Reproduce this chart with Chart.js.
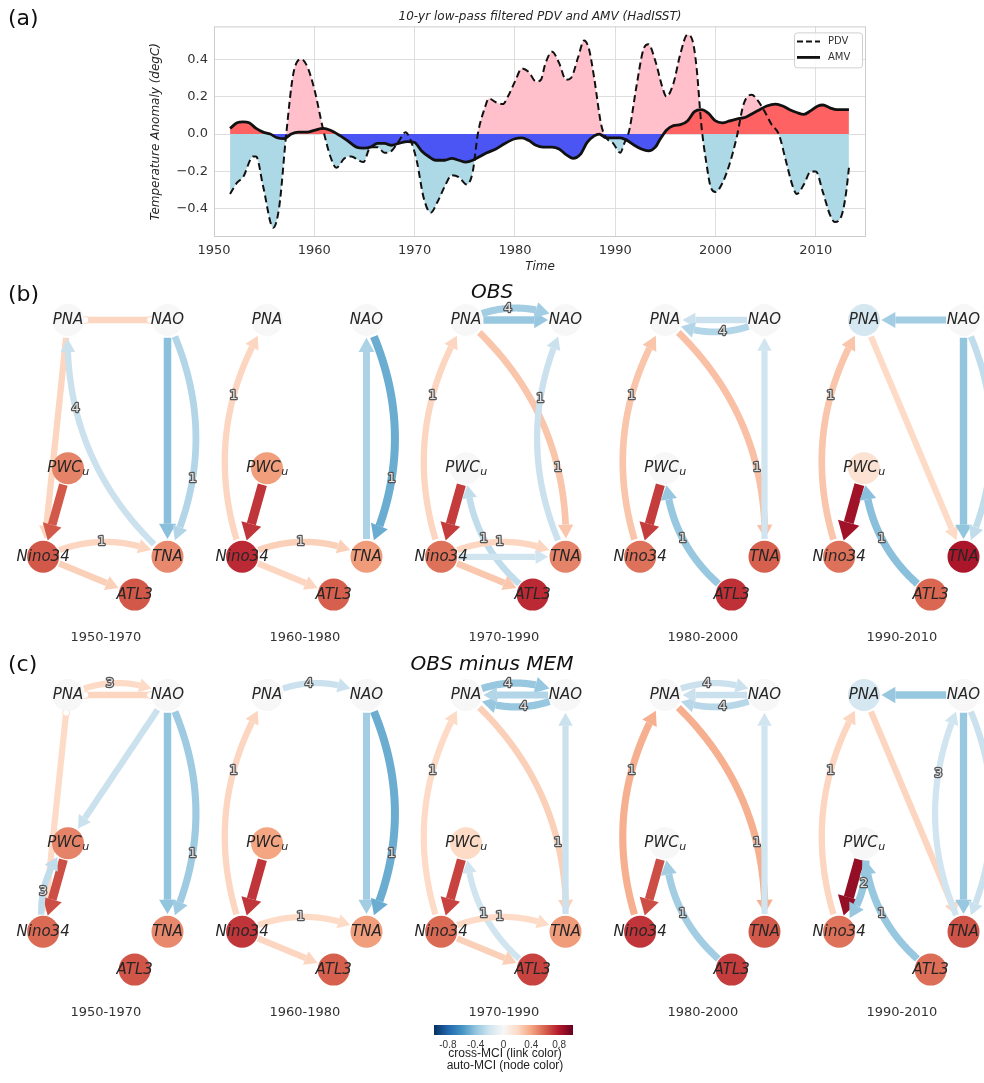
<!DOCTYPE html>
<html>
<head>
<meta charset="utf-8">
<script src="https://cdn.jsdelivr.net/npm/chart.js@4.4.1/dist/chart.umd.min.js"></script>
<style>
  body { margin: 0; background: #fff; }
  #page { position: relative; width: 984px; height: 1083px; overflow: hidden; font-family: "DejaVu Sans", sans-serif; color: #111; }
  canvas { position: absolute; }
  .txt { position: absolute; white-space: nowrap; }
  .mid { transform: translate(-50%, -50%); }
</style>
</head>
<body>
<div id="page">
  <canvas id="pdvAmv" width="984" height="280" style="left:0;top:0"></canvas>
  <canvas id="obsNet" width="984" height="370" style="left:0;top:280px"></canvas>
  <canvas id="memNet" width="984" height="370" style="left:0;top:655px"></canvas>
  <canvas id="cbar" width="160" height="40" style="left:424px;top:1018px"></canvas>

  <div class="txt" style="left:8px;top:5px;font-size:22px">(a)</div>
  <div class="txt" style="left:8px;top:281px;font-size:22px">(b)</div>
  <div class="txt" style="left:8px;top:651px;font-size:22px">(c)</div>
  <div class="txt mid" style="left:492px;top:291px;font-size:20px;font-style:italic">OBS</div>
  <div class="txt mid" style="left:492px;top:663px;font-size:20px;font-style:italic">OBS minus MEM</div>
  <div class="txt mid" style="left:505px;top:1053px;font-size:12px;font-family:'Liberation Sans';color:#222">cross-MCI (link color)</div>
  <div class="txt mid" style="left:505px;top:1065px;font-size:12px;font-family:'Liberation Sans';color:#222">auto-MCI (node color)</div>
</div>

<script>
// (a) 10-yr low-pass filtered indices
const pdvYears = [1951.6, 1952.3, 1952.9, 1953.9, 1954.2, 1954.9, 1955.9, 1956.5, 1957.2, 1957.9,
  1958.7, 1959.3, 1960.0, 1960.9, 1961.6, 1962.2, 1963.0, 1963.7, 1964.4, 1964.9,
  1965.6, 1966.3, 1967.0, 1967.7, 1968.4, 1969.1, 1969.5, 1970.2, 1970.9, 1971.6,
  1972.3, 1973.0, 1973.7, 1974.4, 1975.2, 1975.8, 1976.3, 1977.0, 1977.4, 1978.1,
  1978.8, 1979.3, 1980.0, 1980.7, 1981.4, 1982.1, 1982.6, 1983.0, 1983.7, 1984.4,
  1985.1, 1985.6, 1986.3, 1986.9, 1987.4, 1987.9, 1988.6, 1989.1, 1989.8, 1990.5,
  1990.9, 1991.4, 1992.1, 1992.8, 1993.3, 1994.0, 1994.7, 1995.1, 1995.8, 1996.5,
  1997.2, 1997.7, 1998.1, 1998.6, 1999.1, 1999.5, 2000.0, 2000.7, 2001.4, 2002.1,
  2002.8, 2003.6, 2004.2, 2004.9, 2005.6, 2006.3, 2007.0, 2007.7, 2008.1, 2008.8,
  2009.5, 2010.0, 2010.7, 2011.4, 2011.9, 2012.6, 2013.0, 2013.3];
const pdv = [-0.32, -0.26, -0.23, -0.12, -0.12, -0.28, -0.50, -0.39, 0.0, 0.32,
  0.40, 0.36, 0.24, 0.02, -0.12, -0.18, -0.13, -0.12, -0.14, -0.15,
  -0.07, -0.07, -0.10, -0.09, -0.04, 0.01, -0.02, -0.14, -0.34, -0.42,
  -0.36, -0.28, -0.22, -0.23, -0.27, -0.20, 0.0, 0.14, 0.19, 0.17,
  0.16, 0.20, 0.28, 0.35, 0.33, 0.28, 0.29, 0.37, 0.44, 0.38,
  0.29, 0.30, 0.41, 0.50, 0.45, 0.30, 0.05, -0.02, -0.05, -0.10,
  -0.05, 0.02, 0.25, 0.45, 0.48, 0.39, 0.25, 0.20, 0.27, 0.43,
  0.53, 0.50, 0.36, 0.04, -0.16, -0.28, -0.31, -0.26, -0.16, -0.02,
  0.16, 0.21, 0.18, 0.12, 0.05, 0.0, -0.14, -0.28, -0.32, -0.27,
  -0.20, -0.20, -0.31, -0.43, -0.47, -0.43, -0.32, -0.18];
const amvYears = [1951.6, 1952.3, 1952.9, 1953.5, 1954.2, 1954.9, 1955.6, 1956.3, 1957.0, 1957.7,
  1958.4, 1959.3, 1960.0, 1960.9, 1961.6, 1962.6, 1963.3, 1964.2, 1964.9, 1965.6,
  1966.3, 1967.0, 1967.7, 1968.4, 1969.3, 1970.0, 1970.7, 1971.4, 1972.1, 1973.0,
  1973.7, 1974.4, 1975.1, 1975.8, 1976.5, 1977.2, 1978.1, 1979.0, 1980.0, 1980.7,
  1981.4, 1982.1, 1982.8, 1983.7, 1984.4, 1985.1, 1985.8, 1986.5, 1987.2, 1987.9,
  1988.4, 1989.1, 1989.8, 1990.5, 1991.2, 1991.9, 1992.6, 1993.3, 1994.0, 1994.4,
  1995.1, 1995.8, 1996.5, 1997.2, 1997.9, 1998.6, 1999.3, 2000.0, 2000.7, 2001.4,
  2002.1, 2003.0, 2003.7, 2004.4, 2005.1, 2006.0, 2006.7, 2007.4, 2008.1, 2008.8,
  2009.5, 2010.2, 2010.7, 2011.4, 2012.1, 2012.8, 2013.3];
const amv = [0.03, 0.06, 0.065, 0.06, 0.03, 0.01, 0.0, -0.02, -0.025, 0.0,
  0.01, 0.01, 0.02, 0.03, 0.02, -0.01, -0.035, -0.07, -0.075, -0.07,
  -0.05, -0.05, -0.06, -0.05, -0.04, -0.045, -0.09, -0.12, -0.14, -0.14,
  -0.13, -0.14, -0.15, -0.14, -0.12, -0.10, -0.08, -0.05, -0.025, -0.02,
  -0.035, -0.06, -0.07, -0.07, -0.08, -0.11, -0.13, -0.11, -0.045, -0.01,
  0.0, -0.02, -0.02, -0.02, -0.035, -0.06, -0.08, -0.09, -0.07, -0.035,
  0.02, 0.045, 0.05, 0.07, 0.12, 0.13, 0.11, 0.07, 0.06, 0.07,
  0.08, 0.09, 0.11, 0.13, 0.15, 0.16, 0.15, 0.13, 0.115, 0.105,
  0.125, 0.15, 0.155, 0.14, 0.13, 0.13, 0.13];
const xTicks = [1950, 1960, 1970, 1980, 1990, 2000, 2010];
const yTicks = [-0.4, -0.2, 0, 0.2, 0.4];

// (b), (c) causal networks: node auto-MCI and links [source, target, cross-MCI, lag]
// lag null = contemporaneous undirected link
const nodeNames = ['PNA', 'NAO', 'PWC_u', 'Nino34', 'TNA', 'ATL3'];
const periods = ['1950-1970', '1960-1980', '1970-1990', '1980-2000', '1990-2010'];

const obsNodeMCI = [
  [0, 0, 0.50, 0.62, 0.48, 0.62],
  [0, 0, 0.42, 0.75, 0.43, 0.60],
  [0, 0, 0, 0.55, 0.50, 0.75],
  [0, 0, 0, 0.55, 0.60, 0.73],
  [-0.18, 0, 0.15, 0.55, 0.82, 0.58]
];
const memNodeMCI = [
  [0, 0, 0.50, 0.57, 0.48, 0.63],
  [0, 0, 0.40, 0.72, 0.42, 0.60],
  [0, 0, 0.20, 0.57, 0.43, 0.68],
  [0, 0, 0, 0.72, 0.62, 0.70],
  [-0.18, 0, 0, 0.55, 0.64, 0.56]
];

const obsLinks = [
  [['PNA', 'NAO', 0.22, null], ['PNA', 'Nino34', 0.22, 0], ['PWC_u', 'Nino34', 0.62, 0], ['TNA', 'PNA', -0.22, 4],
   ['NAO', 'TNA', -0.42, 0], ['NAO', 'TNA', -0.30, 1], ['Nino34', 'TNA', 0.22, 1], ['Nino34', 'ATL3', 0.24, 0]],
  [['Nino34', 'PNA', 0.22, 1], ['PWC_u', 'Nino34', 0.72, 0], ['TNA', 'NAO', -0.32, 0], ['NAO', 'TNA', -0.50, 1],
   ['Nino34', 'TNA', 0.24, 1], ['Nino34', 'ATL3', 0.22, 0]],
  [['PNA', 'NAO', -0.38, 0], ['PNA', 'NAO', -0.35, 4], ['Nino34', 'PNA', 0.22, 1], ['PNA', 'TNA', 0.28, 1],
   ['TNA', 'NAO', -0.22, 1], ['PWC_u', 'Nino34', 0.70, 0], ['ATL3', 'PWC_u', -0.25, 1], ['Nino34', 'TNA', 0.22, 1],
   ['Nino34', 'TNA', -0.20, 0], ['Nino34', 'ATL3', 0.27, 0]],
  [['NAO', 'PNA', -0.22, 0], ['NAO', 'PNA', -0.30, 4], ['Nino34', 'PNA', 0.28, 1], ['PNA', 'TNA', 0.30, 1],
   ['TNA', 'NAO', -0.20, 0], ['PWC_u', 'Nino34', 0.70, 0], ['ATL3', 'PWC_u', -0.38, 1]],
  [['NAO', 'PNA', -0.35, 0], ['Nino34', 'PNA', 0.28, 1], ['PNA', 'TNA', 0.20, 0], ['NAO', 'TNA', -0.40, 0],
   ['NAO', 'TNA', -0.25, 1], ['PWC_u', 'Nino34', 0.85, 0], ['ATL3', 'PWC_u', -0.42, 1]]
];
const memLinks = [
  [['PNA', 'NAO', 0.20, 3], ['PNA', 'NAO', 0.22, null], ['PNA', 'Nino34', 0.20, null], ['NAO', 'PWC_u', -0.22, 0],
   ['NAO', 'TNA', -0.40, 0], ['NAO', 'TNA', -0.36, 1], ['PWC_u', 'Nino34', 0.65, 0], ['Nino34', 'PWC_u', -0.25, 3]],
  [['PNA', 'NAO', -0.22, 4], ['Nino34', 'PNA', 0.22, 1], ['PWC_u', 'Nino34', 0.72, 0], ['NAO', 'TNA', -0.35, 0],
   ['NAO', 'TNA', -0.50, 1], ['Nino34', 'TNA', 0.20, 1], ['Nino34', 'ATL3', 0.22, 0]],
  [['PNA', 'NAO', -0.38, 4], ['NAO', 'PNA', -0.38, 4], ['NAO', 'PNA', -0.30, 0], ['Nino34', 'PNA', 0.20, 1],
   ['PNA', 'TNA', 0.24, 1], ['TNA', 'NAO', -0.22, 0], ['PWC_u', 'Nino34', 0.68, 0], ['ATL3', 'PWC_u', -0.20, 1],
   ['Nino34', 'TNA', 0.20, 1], ['Nino34', 'ATL3', 0.24, 0]],
  [['PNA', 'NAO', -0.22, 4], ['NAO', 'PNA', -0.28, 4], ['NAO', 'PNA', -0.22, 0], ['Nino34', 'PNA', 0.36, 1],
   ['PNA', 'TNA', 0.36, 1], ['TNA', 'NAO', -0.20, 0], ['PWC_u', 'Nino34', 0.65, 0], ['ATL3', 'PWC_u', -0.35, 1]],
  [['NAO', 'PNA', -0.38, 0], ['Nino34', 'PNA', 0.22, 1], ['PNA', 'TNA', 0.22, 0], ['TNA', 'NAO', -0.20, 3],
   ['NAO', 'TNA', -0.38, 0], ['NAO', 'TNA', -0.22, 1], ['PWC_u', 'Nino34', 0.88, 0], ['PWC_u', 'Nino34', -0.38, 2],
   ['ATL3', 'PWC_u', -0.38, 1]]
];
const cbarTicks = [-0.8, -0.4, 0, 0.4, 0.8];

// layout of one network (graph units), not data
const nodeLayout = { PNA: [0, 0], NAO: [1, 0], PWC_u: [0, 1.49], Nino34: [-0.25, 2.38], TNA: [1, 2.38], ATL3: [0.67, 2.76] };
const graphStep = 2;
const unitPx = 99.5;
const nodeRadius = 16;

Chart.defaults.font.family = '"DejaVu Sans", sans-serif';
Chart.defaults.color = '#333';

// RdBu_r colormap
const rdbuStops = ['#053061', '#2166ac', '#4393c3', '#92c5de', '#d1e5f0', '#f7f7f7',
  '#fddbc7', '#f4a582', '#d6604d', '#b2182b', '#67001f'];
function hexRgb(h) { return [1, 3, 5].map(i => parseInt(h.slice(i, i + 2), 16)); }
function rdbu(v) {
  const p = (Math.max(-1, Math.min(1, v)) + 1) / 2 * (rdbuStops.length - 1);
  const i = Math.min(rdbuStops.length - 2, Math.floor(p));
  const f = p - i;
  const a = hexRgb(rdbuStops[i]), b = hexRgb(rdbuStops[i + 1]);
  return 'rgb(' + a.map((c, j) => Math.round(c + (b[j] - c) * f)).join(',') + ')';
}

// ---------- panel (a) ----------
const framePlugin = {
  id: 'frame',
  afterDatasetsDraw(chart) {
    const { ctx, chartArea: a } = chart;
    ctx.save();
    ctx.strokeStyle = '#cccccc';
    ctx.lineWidth = 1;
    ctx.strokeRect(a.left + 0.5, a.top + 0.5, a.width - 1, a.height - 1);
    ctx.restore();
  }
};
const legendBox = {
  id: 'legendBox',
  afterDraw(chart) {
    const { ctx, chartArea: a } = chart;
    const x0 = a.right - 72, y0 = a.top + 6;
    ctx.save();
    ctx.fillStyle = 'rgba(255,255,255,0.85)';
    ctx.strokeStyle = '#d0d0d0';
    ctx.lineWidth = 1;
    ctx.beginPath();
    ctx.roundRect(x0 + 0.5, y0 + 0.5, 68, 35, 3);
    ctx.fill();
    ctx.stroke();
    ctx.strokeStyle = '#111';
    ctx.lineWidth = 2;
    ctx.setLineDash([6, 3]);
    ctx.beginPath(); ctx.moveTo(x0 + 3, y0 + 9); ctx.lineTo(x0 + 26, y0 + 9); ctx.stroke();
    ctx.setLineDash([]);
    ctx.lineWidth = 2.8;
    ctx.beginPath(); ctx.moveTo(x0 + 3, y0 + 25); ctx.lineTo(x0 + 26, y0 + 25); ctx.stroke();
    ctx.fillStyle = '#333';
    ctx.font = '10px "DejaVu Sans"';
    ctx.textBaseline = 'middle';
    ctx.fillText('PDV', x0 + 34, y0 + 9);
    ctx.fillText('AMV', x0 + 34, y0 + 25);
    ctx.restore();
  }
};

const fmtY = v => (v < 0 ? '\u2212' : '') + Math.abs(v).toFixed(1);

new Chart(document.getElementById('pdvAmv'), {
  type: 'line',
  data: {
    datasets: [
      {
        label: 'AMV',
        data: amvYears.map((x, i) => ({ x, y: amv[i] })),
        borderColor: '#111',
        borderWidth: 2.8,
        pointRadius: 0,
        cubicInterpolationMode: 'monotone',
        fill: { target: 'origin', above: '#ff6262', below: '#4a55f4' }
      },
      {
        label: 'PDV',
        data: pdvYears.map((x, i) => ({ x, y: pdv[i] })),
        borderColor: '#111',
        borderWidth: 2,
        borderDash: [7, 4],
        pointRadius: 0,
        cubicInterpolationMode: 'monotone',
        fill: { target: 'origin', above: 'pink', below: 'lightblue' }
      }
    ]
  },
  options: {
    responsive: false,
    animation: false,
    events: [],
    layout: { padding: { left: 145, right: 118, top: 0, bottom: 0 } },
    plugins: {
      legend: { display: false },
      tooltip: { enabled: false },
      filler: { drawTime: 'beforeDatasetsDraw' },
      title: {
        display: true,
        fullSize: false,
        text: '10-yr low-pass filtered PDV and AMV (HadISST)',
        color: '#262626',
        font: { size: 12, style: 'italic', weight: 'normal' },
        padding: { top: 10, bottom: 2 }
      }
    },
    scales: {
      x: {
        type: 'linear',
        min: 1950,
        max: 2015,
        afterBuildTicks: s => { s.ticks = xTicks.map(v => ({ value: v })); },
        afterFit: s => { s.height = 43; },
        grid: { color: '#dedede', drawTicks: false },
        border: { display: false },
        ticks: { callback: v => String(v), font: { size: 13 }, color: '#333', padding: 6, maxRotation: 0 },
        title: { display: true, text: 'Time', color: '#262626', font: { size: 12, style: 'italic' }, padding: { top: 2, bottom: 6 } }
      },
      y: {
        min: -0.55,
        max: 0.575,
        afterBuildTicks: s => { s.ticks = yTicks.map(v => ({ value: v })); },
        afterFit: s => { s.width = 69; },
        grid: { color: '#dedede', drawTicks: false },
        border: { display: false },
        ticks: { callback: fmtY, font: { size: 13 }, color: '#333', padding: 6 },
        title: { display: true, text: 'Temperature Anomaly (degC)', color: '#262626', font: { size: 12, style: 'italic' }, padding: { top: 4, bottom: 2 } }
      }
    }
  },
  plugins: [framePlugin, legendBox]
});

// ---------- panels (b), (c) ----------
function bez(p0, c, p1, t) {
  const u = 1 - t;
  return { x: u * u * p0.x + 2 * u * t * c.x + t * t * p1.x, y: u * u * p0.y + 2 * u * t * c.y + t * t * p1.y };
}

function drawLink(ctx, p0, p1, value, lag) {
  const dx = p1.x - p0.x, dy = p1.y - p0.y, L = Math.hypot(dx, dy);
  const bend = lag ? 0.12 : 0;
  // control point on the left of the travel direction
  const c = { x: (p0.x + p1.x) / 2 + dy * 2 * bend, y: (p0.y + p1.y) / 2 - dx * 2 * bend };
  const pts = [];
  for (let i = 0; i <= 200; i++) pts.push(bez(p0, c, p1, i / 200));
  const R = nodeRadius + 1;
  let i0 = 0, i1 = pts.length - 1;
  while (i0 < i1 && Math.hypot(pts[i0].x - p0.x, pts[i0].y - p0.y) < R) i0++;
  while (i1 > i0 && Math.hypot(pts[i1].x - p1.x, pts[i1].y - p1.y) < R) i1--;
  const lw = 5 + 6 * Math.abs(value);
  const col = rdbu(value);
  ctx.save();
  ctx.strokeStyle = col;
  ctx.fillStyle = col;
  ctx.lineWidth = lw;
  ctx.lineCap = 'butt';
  ctx.lineJoin = 'round';
  const tip = pts[i1];
  let iEnd = i1;
  if (lag !== null) {
    const hl = 1.5 * lw + 3;
    while (iEnd > i0 && Math.hypot(pts[iEnd].x - tip.x, pts[iEnd].y - tip.y) < hl) iEnd--;
  }
  ctx.beginPath();
  ctx.moveTo(pts[i0].x, pts[i0].y);
  for (let i = i0 + 1; i <= iEnd; i++) ctx.lineTo(pts[i].x, pts[i].y);
  ctx.stroke();
  if (lag !== null) {
    const base = pts[iEnd];
    const ux = tip.x - base.x, uy = tip.y - base.y, ul = Math.hypot(ux, uy) || 1;
    const hw = (2 * lw + 2) / 2;
    const nx = -uy / ul * hw, ny = ux / ul * hw;
    ctx.beginPath();
    ctx.moveTo(tip.x, tip.y);
    ctx.lineTo(base.x + nx, base.y + ny);
    ctx.lineTo(base.x - nx, base.y - ny);
    ctx.closePath();
    ctx.fill();
  } else {
    ctx.fillStyle = '#fff';
    ctx.lineWidth = 1;
    [pts[i0], pts[i1]].forEach(p => {
      ctx.beginPath();
      ctx.arc(p.x, p.y, 3.5, 0, Math.PI * 2);
      ctx.fill();
      ctx.stroke();
    });
  }
  ctx.restore();
  if (lag) {
    const t = 0.42 + 0.25 * Math.max(0, Math.min(1, (L - 100) / 120));
    return { pos: bez(p0, c, p1, t), text: String(lag) };
  }
  return null;
}

function drawNodeLabel(ctx, name, x, y) {
  ctx.fillStyle = '#262626';
  ctx.textBaseline = 'middle';
  if (name === 'PWC_u') {
    ctx.font = 'italic 15px "DejaVu Sans"';
    const w1 = ctx.measureText('PWC').width;
    ctx.font = 'italic 11px "DejaVu Sans"';
    const w2 = ctx.measureText('u').width;
    const x0 = x - (w1 + w2) / 2;
    ctx.textAlign = 'left';
    ctx.font = 'italic 15px "DejaVu Sans"';
    ctx.fillText('PWC', x0, y);
    ctx.font = 'italic 11px "DejaVu Sans"';
    ctx.fillText('u', x0 + w1 + 0.5, y + 4);
  } else {
    ctx.textAlign = 'center';
    ctx.font = 'italic 15px "DejaVu Sans"';
    ctx.fillText(name, x, y);
  }
}

function networkRow(canvasId, nodeMCI, links) {
  const pts = [], colors = [];
  nodeMCI.forEach((vals, k) => nodeNames.forEach((n, j) => {
    pts.push({ x: nodeLayout[n][0] + graphStep * k, y: nodeLayout[n][1] });
    colors.push(rdbu(vals[j]));
  }));
  let linkLabels = [];
  const pix = (chart, name, k) => ({
    x: chart.scales.x.getPixelForValue(nodeLayout[name][0] + graphStep * k),
    y: chart.scales.y.getPixelForValue(nodeLayout[name][1])
  });
  const netPlugin = {
    id: 'net',
    beforeDatasetsDraw(chart) {
      const ctx = chart.ctx;
      linkLabels = [];
      links.forEach((graph, k) => graph.forEach(([s, t, v, lag]) => {
        const lab = drawLink(ctx, pix(chart, s, k), pix(chart, t, k), v, lag);
        if (lab) linkLabels.push(lab);
      }));
    },
    afterDatasetsDraw(chart) {
      const ctx = chart.ctx;
      ctx.save();
      ctx.font = '13px "DejaVu Sans"';
      ctx.textAlign = 'center';
      ctx.textBaseline = 'middle';
      ctx.lineJoin = 'round';
      linkLabels.forEach(l => {
        ctx.strokeStyle = '#555';
        ctx.lineWidth = 2.5;
        ctx.strokeText(l.text, l.pos.x, l.pos.y);
        ctx.fillStyle = '#e4e4e4';
        ctx.fillText(l.text, l.pos.x, l.pos.y);
      });
      nodeMCI.forEach((vals, k) => nodeNames.forEach(n => {
        const p = pix(chart, n, k);
        drawNodeLabel(ctx, n, p.x, p.y);
      }));
      ctx.font = '13px "DejaVu Sans"';
      ctx.fillStyle = '#333';
      ctx.textAlign = 'center';
      periods.forEach((label, k) => {
        ctx.fillText(label, chart.scales.x.getPixelForValue(0.38 + graphStep * k), chart.scales.y.getPixelForValue(3.19));
      });
      ctx.restore();
    }
  };
  new Chart(document.getElementById(canvasId), {
    type: 'scatter',
    data: {
      datasets: [{
        data: pts,
        pointRadius: nodeRadius,
        pointHoverRadius: nodeRadius,
        pointBackgroundColor: colors,
        pointBorderWidth: 0,
        borderWidth: 0,
        clip: false
      }]
    },
    options: {
      responsive: false,
      animation: false,
      events: [],
      layout: { padding: 0, autoPadding: false },
      plugins: { legend: { display: false }, tooltip: { enabled: false } },
      scales: {
        x: { type: 'linear', display: false, min: -68 / unitPx, max: (984 - 68) / unitPx },
        y: { type: 'linear', display: false, reverse: true, min: -40 / unitPx, max: (370 - 40) / unitPx }
      }
    },
    plugins: [netPlugin]
  });
}

networkRow('obsNet', obsNodeMCI, obsLinks);
networkRow('memNet', memNodeMCI, memLinks);

// ---------- colour bar ----------
new Chart(document.getElementById('cbar'), {
  type: 'scatter',
  data: { datasets: [] },
  options: {
    responsive: false,
    animation: false,
    events: [],
    layout: { padding: { left: 10, right: 11, top: 7, bottom: 0 }, autoPadding: false },
    plugins: { legend: { display: false }, tooltip: { enabled: false } },
    scales: {
      x: {
        type: 'linear',
        min: -1,
        max: 1,
        afterBuildTicks: s => { s.ticks = cbarTicks.map(v => ({ value: v })); },
        afterFit: s => { s.height = 23; },
        grid: { display: false, drawTicks: false },
        border: { display: false },
        ticks: {
          font: { size: 10, family: 'Liberation Sans' },
          color: '#333',
          padding: 4,
          maxRotation: 0,
          autoSkip: false,
          callback: v => v === 0 ? '0' : (v < 0 ? '-' : '') + Math.abs(v).toFixed(1)
        }
      },
      y: { display: false, min: 0, max: 1 }
    }
  },
  plugins: [{
    id: 'cbarFill',
    beforeDatasetsDraw(chart) {
      const { ctx, chartArea: a } = chart;
      const g = ctx.createLinearGradient(a.left, 0, a.right, 0);
      rdbuStops.forEach((c, i) => g.addColorStop(i / (rdbuStops.length - 1), c));
      ctx.save();
      ctx.fillStyle = g;
      ctx.fillRect(a.left, a.top, a.width, a.height);
      ctx.restore();
    }
  }]
});
</script>
</body>
</html>
